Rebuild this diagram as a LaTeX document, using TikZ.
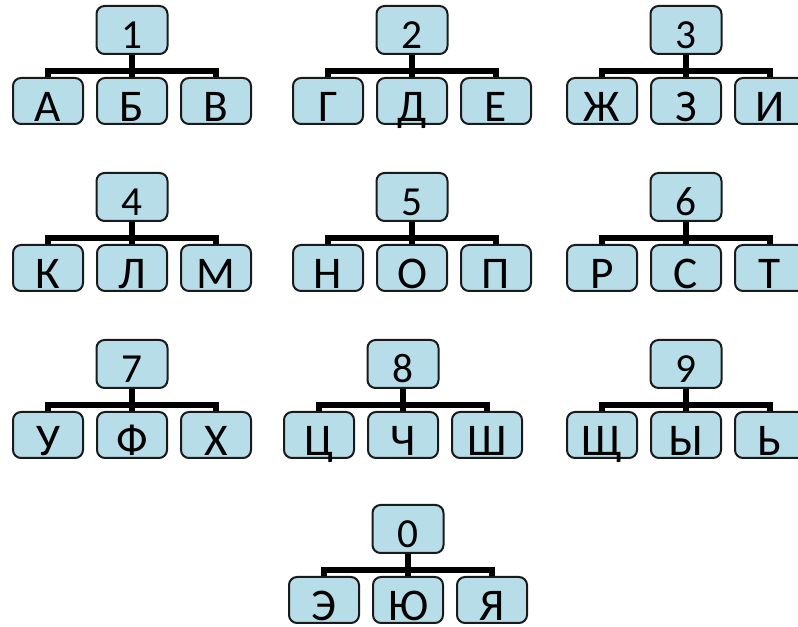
\documentclass[tikz,border=0pt]{standalone}
\usepackage{fontspec}
\setmainfont{Carlito}
\usepackage{xcolor}
\usepackage{tikz}
\usetikzlibrary{positioning, calc}
\definecolor{aquafill}{HTML}{B7DDE8}
\definecolor{boxedge}{HTML}{1A1A1A}
\tikzset{
  digitbox/.style={fill=aquafill, draw=boxedge, line width=1.5pt, rounded corners=6pt,
                   minimum width=53.25pt, minimum height=36pt, inner sep=0pt,
                   text height=28.5pt, text depth=0pt, font=\fontsize{31}{32}\selectfont},
  letterbox/.style={fill=aquafill, draw=boxedge, line width=1.5pt, rounded corners=6pt,
                    minimum width=52.5pt, minimum height=34.5pt, inner sep=0pt,
                    text height=30.5pt, text depth=0pt, font=\fontsize{34}{35}\selectfont},
  branch/.style={line width=3.8pt, draw=black},
}
% one digit with its three letters: name, centre x, top y, digit, letters
\newcommand{\digitgroup}[7]{%
  \node[digitbox] (#1) at (#2, 627-#3-24) {#4};
  \node[letterbox] (#1a) at (#2-84, 627-#3-95) {#5};
  \node[letterbox] (#1b) at (#2, 627-#3-95) {#6};
  \node[letterbox] (#1c) at (#2+84, 627-#3-95) {#7};
  \draw[branch] (#1.south) -- (#1b.north);
  \draw[branch] (#1a.north) -- ++(0,6) -| (#1c.north);
}

\begin{document}
\begin{tikzpicture}[x=0.75pt, y=0.75pt]
  \useasboundingbox (0,0) rectangle (798,627);
  \digitgroup{one}{132}{6}{1}{А}{Б}{В}
  \digitgroup{two}{412}{6}{2}{Г}{Д}{Е}
  \digitgroup{three}{686}{6}{3}{Ж}{З}{И}
  \digitgroup{four}{132}{173}{4}{К}{Л}{М}
  \digitgroup{five}{412}{173}{5}{Н}{О}{П}
  \digitgroup{six}{686}{173}{6}{Р}{С}{Т}
  \digitgroup{seven}{132}{340}{7}{У}{Ф}{Х}
  \digitgroup{eight}{403}{340}{8}{Ц}{Ч}{Ш}
  \digitgroup{nine}{686}{340}{9}{Щ}{Ы}{Ь}
  \digitgroup{zero}{408}{505}{0}{Э}{Ю}{Я}
\end{tikzpicture}
\end{document}
